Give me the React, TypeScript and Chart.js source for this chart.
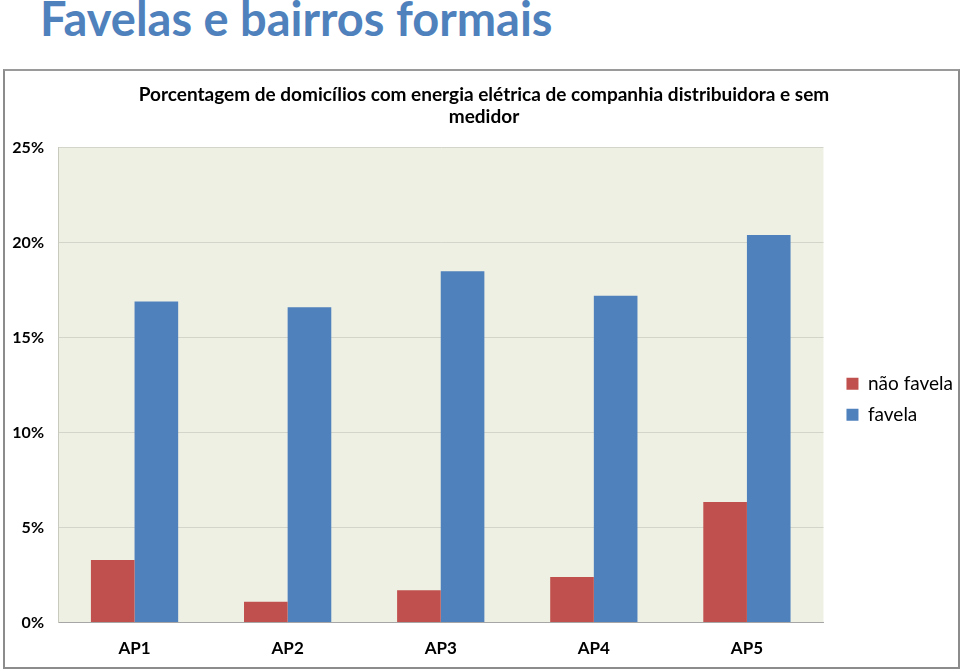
import React, { useEffect, useRef } from "react";
import { Chart, registerables } from "chart.js";

Chart.register(...registerables);

const categories = ["AP1", "AP2", "AP3", "AP4", "AP5"];
const naoFavela = [3.3, 1.1, 1.7, 2.4, 6.35];
const favela = [16.9, 16.6, 18.5, 17.2, 20.4];
const yTicks = [0, 5, 10, 15, 20, 25];
const chartTitle = [
  "Porcentagem de domicílios com energia elétrica de companhia distribuidora e sem",
  "medidor",
];
const pageTitle = "Favelas e bairros formais";

const FONT = "Lato, 'Open Sans', sans-serif";

const plotBg = {
  id: "plotBg",
  beforeDraw(chart: any) {
    const { ctx, chartArea } = chart;
    ctx.save();
    ctx.fillStyle = "#EEF0E4";
    ctx.fillRect(chartArea.left, chartArea.top, chartArea.right - chartArea.left, chartArea.bottom - chartArea.top);
    ctx.restore();
  },
};

export default function App() {
  const ref = useRef<HTMLCanvasElement>(null);
  useEffect(() => {
    if (!ref.current) return;
    const chart = new Chart(ref.current, {
      type: "bar",
      data: {
        labels: categories,
        datasets: [
          { label: "não favela", data: naoFavela, backgroundColor: "#C0504D", borderWidth: 0 },
          { label: "favela", data: favela, backgroundColor: "#4F81BD", borderWidth: 0 },
        ],
      },
      options: {
        animation: false,
        responsive: false,
        maintainAspectRatio: false,
        layout: { padding: { left: 0, right: -5, top: 0, bottom: -8 } },
        datasets: { bar: { barPercentage: 1, categoryPercentage: 0.57 } } as any,
        plugins: {
          title: {
            display: true,
            text: chartTitle,
            color: "#000",
            font: { family: FONT, size: 19, weight: "bold", lineHeight: 1.15 },
            padding: { top: 13, bottom: 20 },
          },
          legend: {
            position: "right",
            title: { display: true, text: "", font: { size: 2 }, padding: { top: 50, bottom: 0 } },
            labels: {
              color: "#000",
              boxWidth: 12,
              boxHeight: 12,
              padding: 12,
              font: { family: FONT, size: 19 },
            },
          },
          tooltip: { enabled: false },
        },
        scales: {
          x: {
            grid: { display: false, drawTicks: false },
            border: { color: "#A6A6A6", width: 1 },
            ticks: { color: "#000", padding: 16, font: { family: FONT, size: 17, weight: "bold" } },
          },
          y: {
            min: 0,
            max: 25,
            afterFit(scale: any) {
              scale.width = 53;
            },
            afterBuildTicks(scale: any) {
              scale.ticks = yTicks.map((v) => ({ value: v }));
            },
            grid: { color: "#D3D5CA", drawTicks: false },
            border: { color: "#C8CABF", width: 1 },
            ticks: {
              color: "#000",
              padding: 14,
              font: { family: FONT, size: 16, weight: "bold" },
              callback: (v: any) => v + "%",
            },
          },
          gap: {
            type: "linear",
            position: "right",
            display: true,
            grid: { display: false, drawTicks: false },
            border: { display: false },
            ticks: { display: false },
            afterFit(scale: any) {
              scale.width = 11;
            },
          },
        } as any,
      },
      plugins: [plotBg],
    });
    return () => chart.destroy();
  }, []);

  return (
    <div style={{ position: "absolute", left: 0, top: 0, width: 960, height: 670, background: "#fff", overflow: "hidden" }}>
      <div
        style={{
          position: "absolute",
          left: 40,
          top: -5,
          fontFamily: FONT,
          fontWeight: "bold",
          fontSize: 47,
          lineHeight: 1,
          color: "#4F81BD",
          whiteSpace: "nowrap",
        }}
      >
        {pageTitle}
      </div>
      <div
        style={{
          position: "absolute",
          left: 3,
          top: 69,
          width: 953,
          height: 596,
          border: "2px solid #8C8C8C",
          borderTopColor: "#9A9A9A",
        }}
      >
        <canvas ref={ref} width={953} height={596} style={{ display: "block" }} />
      </div>
    </div>
  );
}
